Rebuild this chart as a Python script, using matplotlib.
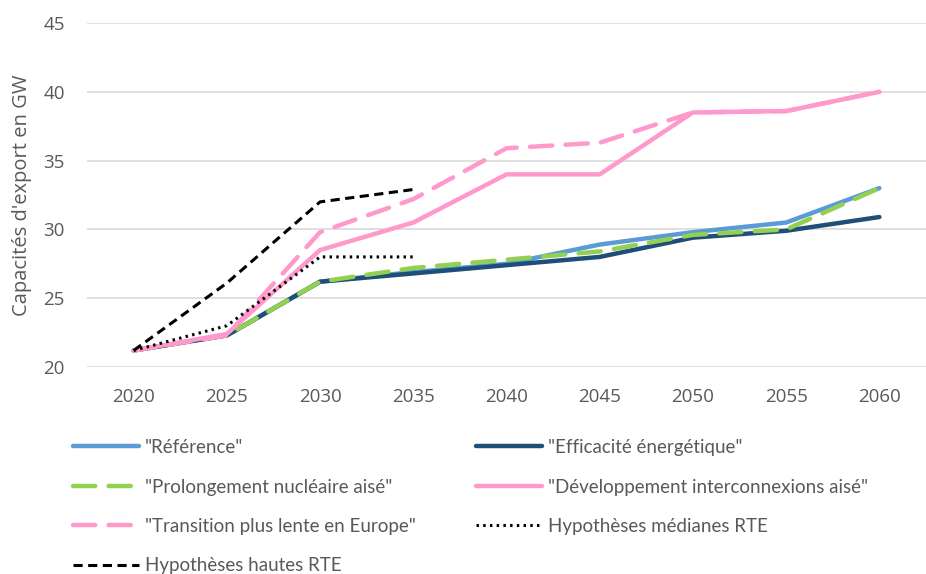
import matplotlib
matplotlib.use("Agg")
import matplotlib.pyplot as plt

years = ["2020", "2025", "2030", "2035", "2040", "2045", "2050", "2055", "2060"]
reference = [21.2, 22.3, 26.2, 26.9, 27.5, 28.9, 29.8, 30.5, 33.0]
efficacite = [21.2, 22.3, 26.2, 26.8, 27.4, 28.0, 29.4, 29.9, 30.9]
prolongement = [21.2, 22.3, 26.2, 27.2, 27.8, 28.4, 29.6, 30.0, 33.0]
developpement = [21.2, 22.4, 28.5, 30.5, 34.0, 34.0, 38.5, 38.6, 40.0]
transition = [21.2, 22.3, 29.8, 32.2, 35.9, 36.3, 38.5, 38.6, 40.0]
medianes_rte = [21.2, 23.0, 28.0, 28.0]
hautes_rte = [21.2, 26.1, 32.0, 32.9]

labels = ['"Référence"', '"Efficacité énergétique"', '"Prolongement nucléaire aisé"',
          '"Développement interconnexions aisé"', '"Transition plus lente en Europe"',
          'Hypothèses médianes RTE', 'Hypothèses hautes RTE']

plt.rcParams['font.family'] = ['Open Sans', 'DejaVu Sans']
TXT = '#595959'

fig = plt.figure(figsize=(9.26, 5.74), dpi=100)
W, H = 926, 574
ax = fig.add_axes([87 / W, 1 - 367 / H, (926 - 87) / W, (367 - 23) / H])
x = list(range(len(years)))

l1, = ax.plot(x, reference, color='#5B9BD5', lw=3.2, solid_capstyle='round')
l2, = ax.plot(x, efficacite, color='#1F4E79', lw=3.2, solid_capstyle='round')
l3, = ax.plot(x, prolongement, color='#92D050', lw=3.2, dashes=(5, 3), dash_capstyle='round')
l4, = ax.plot(x, developpement, color='#FF99CC', lw=3.2, solid_capstyle='round')
l5, = ax.plot(x, transition, color='#FF99CC', lw=3.2, dashes=(5, 3), dash_capstyle='round')
l6, = ax.plot(x[:len(medianes_rte)], medianes_rte, color='black', lw=2.2, dashes=(0.8, 1.4))
l7, = ax.plot(x[:len(hautes_rte)], hautes_rte, color='black', lw=2.2, dashes=(3, 1.8))

ax.set_xlim(-0.5, len(years) - 0.5)
ax.set_ylim(20, 45)
ax.set_yticks([20, 25, 30, 35, 40, 45])
ax.set_xticks(x)
ax.set_xticklabels(years)
ax.grid(axis='y', color='#D9D9D9', lw=1.2)
ax.set_axisbelow(True)
for s in ax.spines.values():
    s.set_visible(False)
ax.tick_params(length=0, labelsize=13.5, labelcolor=TXT)
ax.tick_params(axis='x', pad=15)
ax.tick_params(axis='y', pad=16)
ax.set_ylabel("Capacités d'export en GW", fontsize=14.5, color=TXT, labelpad=8)

handles = [l1, l2, l3, l4, l5, l6, l7]
order = [0, 2, 4, 6, 1, 3, 5]
leg = fig.legend([handles[i] for i in order], [labels[i] for i in order],
                 loc='upper left', bbox_to_anchor=(58 / W, 1 - 424 / H), ncol=2,
                 frameon=False, handlelength=3.5, handletextpad=0.35,
                 labelspacing=1.2, columnspacing=3.2, labelcolor=TXT,
                 borderpad=0.3,
                 prop={'family': ['Lato', 'DejaVu Sans'], 'size': 13.5})

fig.savefig('out.png', dpi=100)
